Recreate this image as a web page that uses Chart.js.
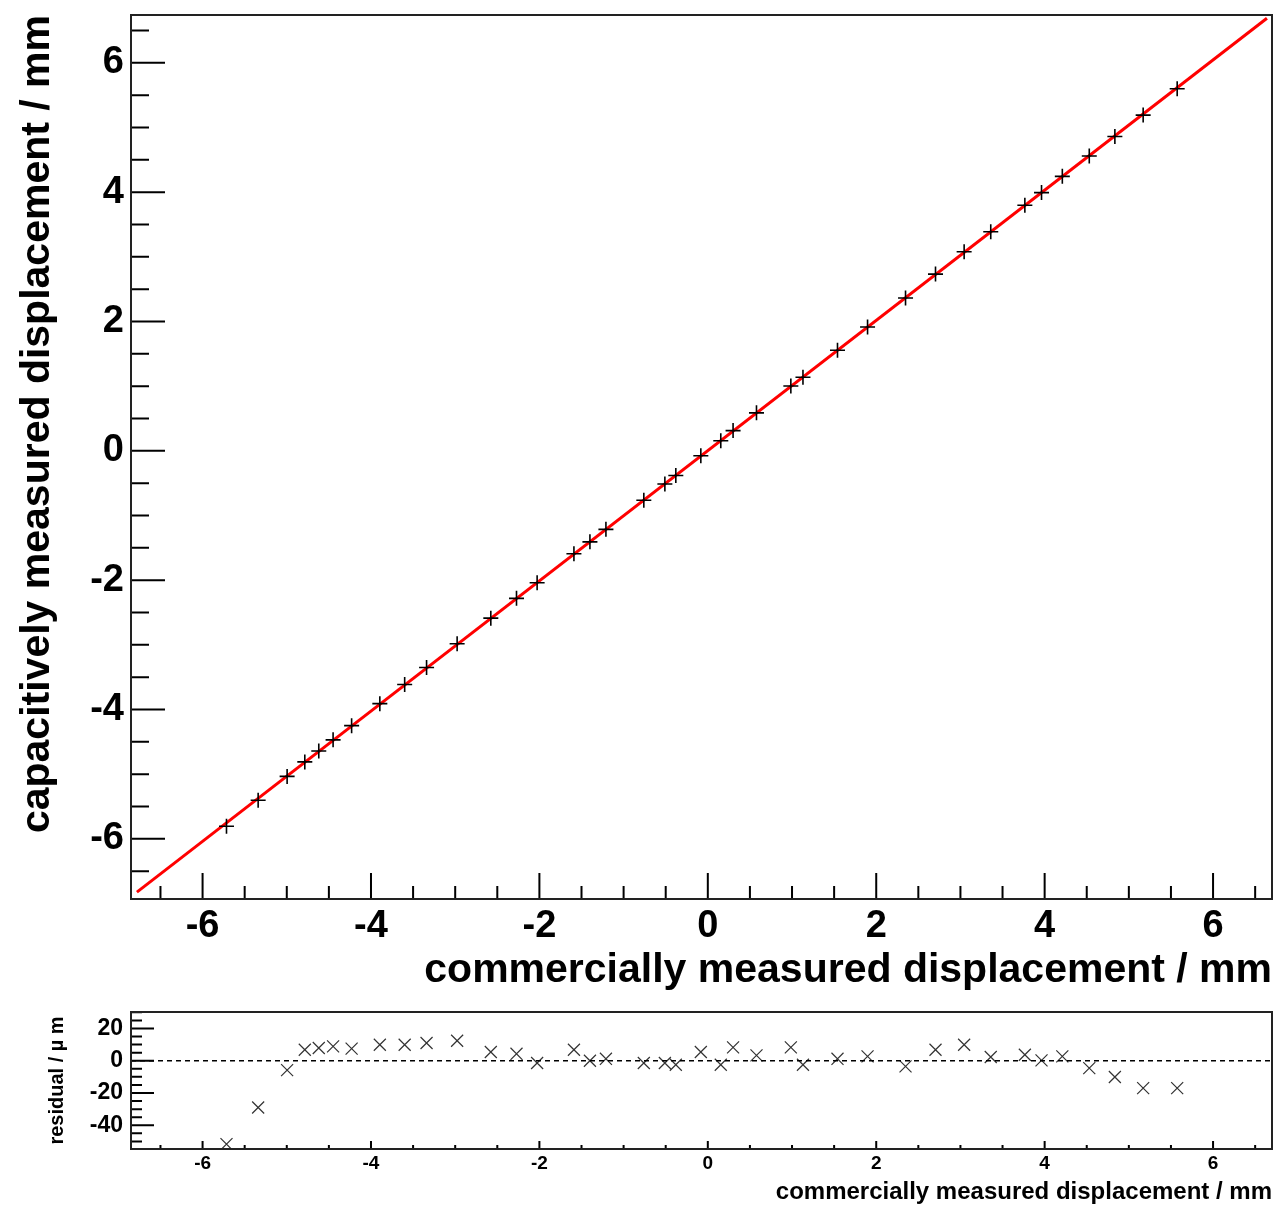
<!DOCTYPE html>
<html>
<head>
<meta charset="utf-8">
<script src="https://cdn.jsdelivr.net/npm/chart.js@4/dist/chart.umd.min.js"></script>
<style>
  html, body { margin: 0; padding: 0; background: #fff; }
  canvas { position: absolute; left: 0; }
</style>
</head>
<body>
<canvas id="main" width="1274" height="1000" style="top:0px"></canvas>
<canvas id="res" width="1274" height="205" style="top:1000px"></canvas>
<script>
// ---- data ----
const xValues = [-5.716, -5.34, -4.996, -4.786, -4.62, -4.45, -4.23, -3.895, -3.60, -3.34,
  -2.977, -2.577, -2.272, -2.027, -1.59, -1.40, -1.21, -0.76, -0.51, -0.38,
  -0.083, 0.154, 0.30, 0.578, 0.986, 1.13, 1.54, 1.897, 2.348, 2.704,
  3.044, 3.36, 3.765, 3.963, 4.21, 4.53, 4.834, 5.17, 5.574];
const yValues = [-5.805, -5.403, -5.034, -4.810, -4.641, -4.469, -4.249, -3.909, -3.612, -3.349,
  -2.983, -2.587, -2.281, -2.039, -1.591, -1.407, -1.214, -0.763, -0.512, -0.382,
  -0.076, 0.156, 0.313, 0.588, 1.004, 1.139, 1.555, 1.916, 2.364, 2.733,
  3.078, 3.389, 3.798, 3.994, 4.245, 4.560, 4.861, 5.192, 5.599];
const residuals = [-51.7, -29.0, -5.8, 6.8, 7.9, 8.9, 7.5, 9.9, 9.9, 11.0,
  12.4, 5.4, 4.3, -1.4, 6.8, 0.0, 1.2, -1.4, -1.4, -2.5,
  5.4, -2.5, 8.3, 3.3, 8.3, -2.5, 1.2, 2.7, -3.5, 6.8,
  9.9, 2.3, 3.7, 0.2, 2.7, -4.6, -10.1, -17.0, -17.0];
const fitX = [-6.78, 6.64];
const fitY = [-6.824, 6.689];
const zeroX = [-6.85, 6.70];
const zeroY = [0, 0];

// ---- axes ----
const xRange = [-6.85, 6.70];
const yRange = [-6.93, 6.74];
const resRange = [-54.7, 30.2];
const xMajorTicks = [-6, -4, -2, 0, 2, 4, 6];
const xMinorTicks = [-6.5, -5.5, -5, -4.5, -3.5, -3, -2.5, -1.5, -1, -0.5, 0.5, 1, 1.5, 2.5, 3, 3.5, 4.5, 5, 5.5, 6.5];
const yMajorTicks = [-6, -4, -2, 0, 2, 4, 6];
const yMinorTicks = [-6.5, -5.5, -5, -4.5, -3.5, -3, -2.5, -1.5, -1, -0.5, 0.5, 1, 1.5, 2.5, 3, 3.5, 4.5, 5, 5.5, 6.5];
const resMajorTicks = [-40, -20, 0, 20];
const resMinorTicks = [-50, -45, -35, -30, -25, -15, -10, -5, 5, 10, 15, 25, 30];
const xTitle = 'commercially measured displacement / mm';
const yTitle = 'capacitively measured displacement / mm';
const resTitle = 'residual / µ m';

const FONT = '"Liberation Sans", Arial, Helvetica, sans-serif';

const frameTicks = {
  id: 'frameTicks',
  afterDatasetsDraw(chart, args, o) {
    const { ctx, chartArea: a } = chart;
    const sx = chart.scales.x, sy = chart.scales.y;
    ctx.save();
    ctx.strokeStyle = '#000';
    ctx.lineWidth = o.tickWidth;
    ctx.beginPath();
    for (const v of o.xMajor) { const p = sx.getPixelForValue(v); ctx.moveTo(p, a.bottom); ctx.lineTo(p, a.bottom - o.xMajorLen); }
    for (const v of o.xMinor) { const p = sx.getPixelForValue(v); ctx.moveTo(p, a.bottom); ctx.lineTo(p, a.bottom - o.xMinorLen); }
    for (const v of o.yMajor) { const p = sy.getPixelForValue(v); ctx.moveTo(a.left, p); ctx.lineTo(a.left + o.yMajorLen, p); }
    for (const v of o.yMinor) { const p = sy.getPixelForValue(v); ctx.moveTo(a.left, p); ctx.lineTo(a.left + o.yMinorLen, p); }
    ctx.stroke();
    ctx.strokeStyle = '#222';
    ctx.lineWidth = 2;
    ctx.strokeRect(a.left, a.top, a.right - a.left, a.bottom - a.top);
    ctx.restore();
  }
};

function tickFont(size) { return { family: FONT, size: size, weight: 'bold' }; }
function noPad(s) { s.paddingTop = 0; s.paddingBottom = 0; s.paddingLeft = 0; s.paddingRight = 0; }

// ---- main chart ----
new Chart(document.getElementById('main'), {
  type: 'scatter',
  data: {
    datasets: [
      {
        label: 'data',
        data: xValues.map((x, i) => ({ x: x, y: yValues[i] })),
        pointStyle: 'cross',
        pointRadius: 7.5,
        pointBorderWidth: 1.6,
        borderColor: '#000',
        backgroundColor: '#000',
        showLine: false
      },
      {
        label: 'fit',
        data: fitX.map((x, i) => ({ x: x, y: fitY[i] })),
        showLine: true,
        borderColor: '#ff0000',
        borderWidth: 3,
        pointRadius: 0,
        fill: false
      }
    ]
  },
  options: {
    responsive: false,
    animation: false,
    devicePixelRatio: 1,
    layout: { autoPadding: false, padding: { top: 15, right: 2, left: 0, bottom: 0 } },
    plugins: {
      legend: { display: false },
      tooltip: { enabled: false },
      frameTicks: {
        tickWidth: 2,
        xMajor: xMajorTicks, xMinor: xMinorTicks, yMajor: yMajorTicks, yMinor: yMinorTicks,
        xMajorLen: 26, xMinorLen: 13, yMajorLen: 34, yMinorLen: 18
      }
    },
    scales: {
      x: {
        type: 'linear', position: 'bottom', min: xRange[0], max: xRange[1],
        afterBuildTicks: s => { s.ticks = xMajorTicks.map(v => ({ value: v })); },
        afterFit: s => { s.height = 101; noPad(s); },
        grid: { display: false, drawTicks: false },
        border: { display: false },
        ticks: { font: tickFont(38), color: '#000', padding: 5, maxRotation: 0, autoSkip: false, callback: v => String(v) },
        title: { display: true, text: xTitle, align: 'end', color: '#000', font: tickFont(41), padding: { top: 0, bottom: 5 } }
      },
      y: {
        type: 'linear', position: 'left', min: yRange[0], max: yRange[1],
        afterBuildTicks: s => { s.ticks = yMajorTicks.map(v => ({ value: v })); },
        afterFit: s => { s.width = 131; noPad(s); },
        grid: { display: false, drawTicks: false },
        border: { display: false },
        ticks: { font: tickFont(38), color: '#000', padding: 7, autoSkip: false, callback: v => String(v) },
        title: { display: true, text: yTitle, align: 'end', color: '#000', font: tickFont(41), padding: { top: 13, bottom: 0 } }
      }
    }
  },
  plugins: [frameTicks]
});

// ---- residual chart ----
new Chart(document.getElementById('res'), {
  type: 'scatter',
  data: {
    datasets: [
      {
        label: 'zero',
        data: zeroX.map((x, i) => ({ x: x, y: zeroY[i] })),
        showLine: true,
        borderColor: '#000',
        borderWidth: 1.5,
        borderDash: [5, 4],
        pointRadius: 0
      },
      {
        label: 'residual',
        data: xValues.map((x, i) => ({ x: x, y: residuals[i] })),
        pointStyle: 'crossRot',
        pointRadius: 8.5,
        pointBorderWidth: 1.2,
        borderColor: '#333',
        backgroundColor: '#333',
        showLine: false
      }
    ]
  },
  options: {
    responsive: false,
    animation: false,
    devicePixelRatio: 1,
    layout: { autoPadding: false, padding: { top: 12, right: 2, left: 0, bottom: 0 } },
    plugins: {
      legend: { display: false },
      tooltip: { enabled: false },
      frameTicks: {
        tickWidth: 2,
        xMajor: xMajorTicks, xMinor: xMinorTicks, yMajor: resMajorTicks, yMinor: resMinorTicks,
        xMajorLen: 8, xMinorLen: 4, yMajorLen: 23, yMinorLen: 11
      }
    },
    scales: {
      x: {
        type: 'linear', position: 'bottom', min: xRange[0], max: xRange[1],
        afterBuildTicks: s => { s.ticks = xMajorTicks.map(v => ({ value: v })); },
        afterFit: s => { s.height = 56; noPad(s); },
        grid: { display: false, drawTicks: false },
        border: { display: false },
        ticks: { font: tickFont(19), color: '#000', padding: 3, maxRotation: 0, autoSkip: false, callback: v => String(v) },
        title: { display: true, text: xTitle, align: 'end', color: '#000', font: { family: FONT, size: 24, weight: 'bold', lineHeight: 1 }, padding: { top: 0, bottom: 1 } }
      },
      y: {
        type: 'linear', position: 'left', min: resRange[0], max: resRange[1],
        afterBuildTicks: s => { s.ticks = resMajorTicks.map(v => ({ value: v })); },
        afterFit: s => { s.width = 131; noPad(s); },
        grid: { display: false, drawTicks: false },
        border: { display: false },
        ticks: { font: tickFont(23), color: '#000', padding: 8, autoSkip: false, callback: v => String(v) },
        title: { display: true, text: resTitle, align: 'center', color: '#000', font: { family: FONT, size: 20, weight: 'bold', lineHeight: 1 }, padding: { top: 47, bottom: 0 } }
      }
    }
  },
  plugins: [frameTicks]
});
</script>
</body>
</html>
